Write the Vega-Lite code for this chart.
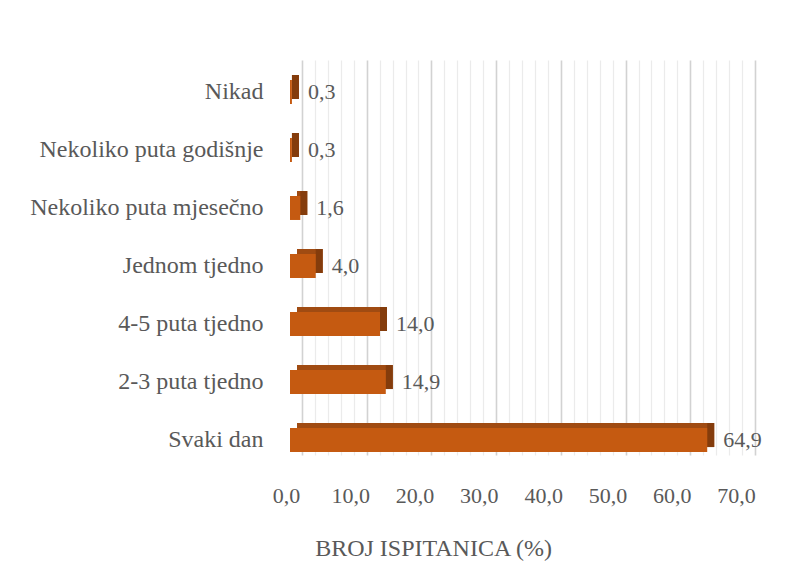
{
  "$schema": "https://vega.github.io/schema/vega-lite/v6.json",
  "width": 450,
  "height": 395,
  "autosize": {"type": "none"},
  "padding": {"left": 290, "top": 60, "right": 65, "bottom": 128},
  "background": "white",
  "config": {
    "view": {"stroke": null},
    "font": "Liberation Serif",
    "axis": {"labelFont": "Liberation Serif", "titleFont": "Liberation Serif"},
    "text": {"font": "Liberation Serif"},
    "locale": {"number": {"decimal": ",", "thousands": ".", "grouping": [3], "currency": ["", " €"]}}
  },
  "data": {
    "values": [
      {"cat": "Nikad", "pct": 0.3},
      {"cat": "Nekoliko puta godišnje", "pct": 0.3},
      {"cat": "Nekoliko puta mjesečno", "pct": 1.6},
      {"cat": "Jednom tjedno", "pct": 4.0},
      {"cat": "4-5 puta tjedno", "pct": 14.0},
      {"cat": "2-3 puta tjedno", "pct": 14.9},
      {"cat": "Svaki dan", "pct": 64.9}
    ]
  },
  "layer": [
    {
      "mark": {"type": "point", "opacity": 0},
      "encoding": {
        "x": {
          "field": "pct",
          "type": "quantitative",
          "scale": {"domain": [0, 70], "range": [12, 465], "nice": false},
          "axis": {
            "orient": "top",
            "values": [0,2,4,6,8,10,12,14,16,18,20,22,24,26,28,30,32,34,36,38,40,42,44,46,48,50,52,54,56,58,60,62,64,66,68,70],
            "grid": true,
            "gridColor": {"condition": {"test": "datum.value % 10 === 0", "value": "#d2d2d2"}, "value": "#ebebeb"},
            "gridWidth": {"condition": {"test": "datum.value % 10 === 0", "value": 1.6}, "value": 1.2},
            "labels": false,
            "ticks": false,
            "domain": false,
            "title": null
          }
        }
      }
    },
    {
      "encoding": {
        "y": {
          "field": "cat",
          "type": "nominal",
          "sort": ["Nikad", "Nekoliko puta godišnje", "Nekoliko puta mjesečno", "Jednom tjedno", "4-5 puta tjedno", "2-3 puta tjedno", "Svaki dan"],
          "scale": {"range": [0, 412], "paddingInner": 0, "paddingOuter": 0.05},
          "axis": {
            "title": null,
            "ticks": false,
            "domain": false,
            "grid": false,
            "labelFont": "Liberation Serif",
            "labelFontSize": 24,
            "labelColor": "#595959",
            "labelPadding": 27,
            "labelLimit": 400
          }
        },
        "x": {
          "field": "pct",
          "type": "quantitative",
          "scale": {"domain": [0, 70], "nice": false},
          "axis": {
            "orient": "bottom",
            "values": [0, 10, 20, 30, 40, 50, 60, 70],
            "format": ".1f",
            "grid": false,
            "ticks": false,
            "domain": false,
            "labelFlush": false,
            "labelFont": "Liberation Serif",
            "labelFontSize": 22,
            "labelColor": "#595959",
            "labelPadding": 30,
            "labelOffset": -4,
            "title": "BROJ ISPITANICA (%)",
            "titleFont": "Liberation Serif",
            "titleFontSize": 24,
            "titleFontWeight": "normal",
            "titleColor": "#595959",
            "titleX": 143,
            "titleY": 93,
            "titleAlign": "center",
            "titleBaseline": "middle"
          }
        }
      },
      "layer": [
        {
          "mark": {"type": "bar", "height": 24, "xOffset": 7, "x2Offset": 7, "yOffset": -5, "color": "#A04B12"}
        },
        {
          "mark": {"type": "bar", "height": 24, "x2Offset": 7, "yOffset": -5, "color": "#843C0C"},
          "encoding": {"x2": {"field": "pct"}}
        },
        {
          "mark": {"type": "bar", "height": 24, "color": "#C55A11"}
        },
        {
          "mark": {"type": "text", "align": "left", "baseline": "middle", "dx": 16, "font": "Liberation Serif", "fontSize": 22, "color": "#595959"},
          "encoding": {"text": {"field": "pct", "type": "quantitative", "format": ".1f"}}
        }
      ]
    }
  ],
  "resolve": {"scale": {"x": "independent"}, "axis": {"x": "independent"}}
}
